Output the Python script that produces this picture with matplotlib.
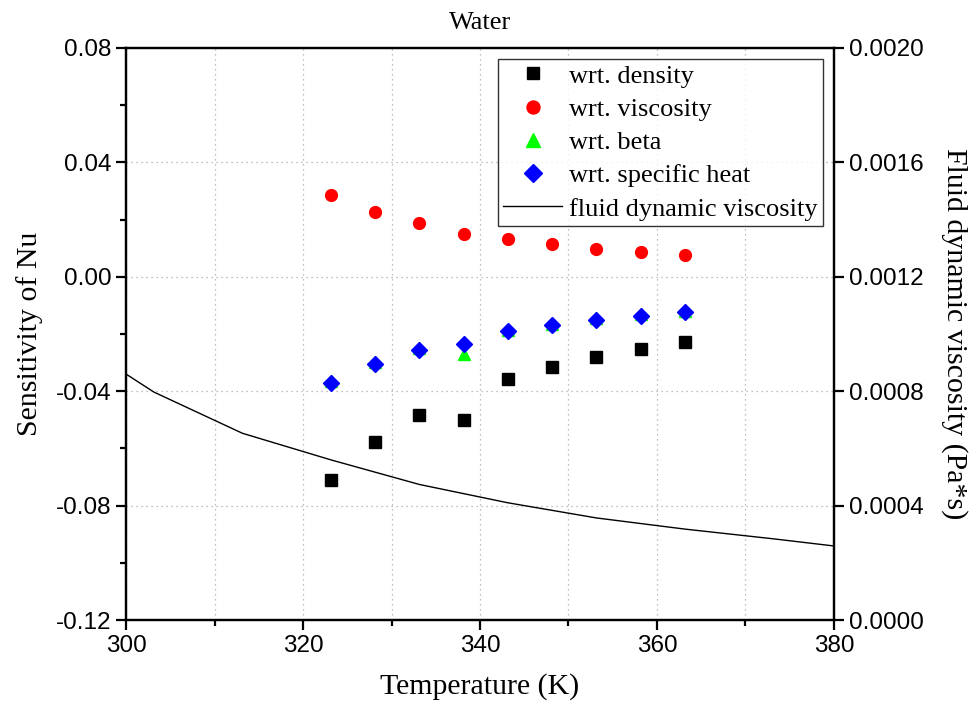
import numpy as np
import matplotlib
matplotlib.use('Agg')
import matplotlib.pyplot as plt
from matplotlib.ticker import MultipleLocator, FormatStrFormatter

# temperatures of the sensitivity points (K)
temps = [323.15, 328.15, 333.15, 338.15, 343.15, 348.15, 353.15, 358.15, 363.15]

# sensitivity of Nu with respect to each property
sens_density = [-0.0711, -0.0577, -0.0483, -0.0500, -0.0357, -0.0316, -0.0280, -0.0252, -0.0227]
sens_viscosity = [0.0286, 0.0227, 0.0188, 0.0150, 0.0132, 0.0115, 0.0098, 0.0087, 0.0077]
sens_beta = [-0.0366, -0.0298, -0.0250, -0.0270, -0.0186, -0.0165, -0.0145, -0.0131, -0.0118]
sens_cp = [-0.0372, -0.0304, -0.0255, -0.0234, -0.0191, -0.0170, -0.0150, -0.0136, -0.0123]

# water dynamic viscosity curve (Pa*s)
visc_T = [300.0, 303.15, 313.15, 323.15, 333.15, 343.15, 353.15, 363.15, 373.15, 380.0]
visc_mu = [0.000860, 0.000797, 0.000653, 0.000560, 0.000474, 0.000410, 0.000357, 0.000318, 0.000284, 0.000259]

serif = 'Liberation Serif'
sans = 'Liberation Sans'

fig = plt.figure(figsize=(9.77, 7.16), dpi=100)
ax = fig.add_axes([0.129, 0.134, 0.7246, 0.799])
ax2 = ax.twinx()

ax.plot(temps, sens_density, ls='none', marker='s', ms=8.5, color='black', label='wrt. density')
ax.plot(temps, sens_viscosity, ls='none', marker='o', ms=8.5, color='red', label='wrt. viscosity')
ax.plot(temps, sens_beta, ls='none', marker='^', ms=9, color='#00ff00', label='wrt. beta')
ax.plot(temps, sens_cp, ls='none', marker='D', ms=8, color='blue', label='wrt. specific heat')
ln, = ax2.plot(visc_T, visc_mu, color='black', lw=1.0, label='fluid dynamic viscosity')

ax.set_xlim(300, 380)
ax.set_ylim(-0.12, 0.08)
ax2.set_ylim(0, 0.002)

ax.xaxis.set_major_locator(MultipleLocator(20))
ax.xaxis.set_minor_locator(MultipleLocator(10))
ax.yaxis.set_major_locator(MultipleLocator(0.04))
ax.yaxis.set_minor_locator(MultipleLocator(0.02))
ax.yaxis.set_major_formatter(FormatStrFormatter('%.2f'))
ax2.yaxis.set_major_locator(MultipleLocator(0.0004))
ax2.yaxis.set_major_formatter(FormatStrFormatter('%.4f'))

# dotted grid
ax.grid(which='major', axis='both', color='#aaaaaa', linestyle=(0, (1, 3)), lw=0.9)
ax.grid(which='minor', axis='x', color='#aaaaaa', linestyle=(0, (1, 3)), lw=0.9)
ax.set_axisbelow(True)

for a in (ax, ax2):
    for s in a.spines.values():
        s.set_linewidth(1.6)
ax.tick_params(which='major', direction='out', length=7, width=1.6, labelsize=17.5, top=False)
ax.tick_params(which='minor', direction='out', length=4, width=1.6, top=False)
ax2.tick_params(which='major', direction='out', length=7, width=1.6, labelsize=17.5)
for lab in ax.get_xticklabels() + ax.get_yticklabels() + ax2.get_yticklabels():
    lab.set_fontfamily(sans)

ax.set_xlabel('Temperature (K)', fontfamily=serif, fontsize=21.5, labelpad=12)
ax.set_ylabel('Sensitivity of Nu', fontfamily=serif, fontsize=21.5, labelpad=9)
ax2.set_ylabel('Fluid dynamic viscosity (Pa*s)', fontfamily=serif, fontsize=21.5,
               rotation=270, labelpad=32)
ax.set_title('Water', fontfamily=serif, fontsize=19, pad=14)

handles, labels = ax.get_legend_handles_labels()
handles.append(ln)
labels.append(ln.get_label())
leg = ax2.legend(handles, labels, loc='upper right', bbox_to_anchor=(0.985, 0.981),
                 prop={'family': serif, 'size': 19}, frameon=True, fancybox=False,
                 edgecolor='black', handlelength=2.2, handletextpad=0.3,
                 borderpad=0.2, labelspacing=0.37, borderaxespad=0, markerscale=1.1)
leg.get_frame().set_linewidth(1.0)

fig.savefig('out.png', dpi=100)
